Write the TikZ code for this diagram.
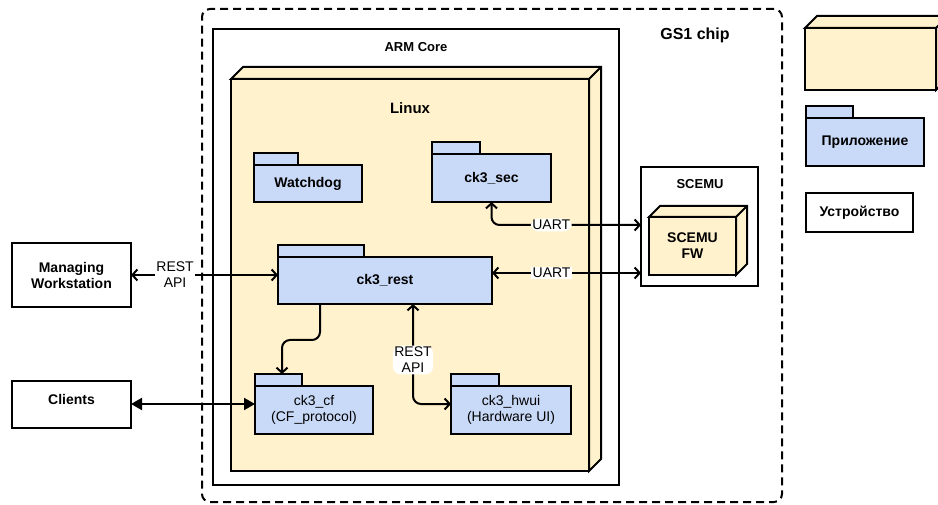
\documentclass[tikz,border=0pt]{standalone}
\usepackage{fontspec}
\setmainfont{Liberation Sans}
\usetikzlibrary{arrows.meta}
\definecolor{nodefill}{HTML}{FFF2CC}
\definecolor{appfill}{HTML}{C9DAF8}
\newcommand\cubetop[2]{\draw[cube](#1.north west)--++(#2,-#2)
  --([shift={(#2,-#2)}]#1.north east)--([shift={(#2,-#2)}]#1.south east)
  --(#1.south east)--(#1.north east)--cycle(#1.north east)--++(#2,-#2);}
\newcommand\apptab[2]{\draw[app](#1.north west)rectangle++(#2,-12);}

\begin{document}
\begin{tikzpicture}[x=1pt,y=-1pt,line width=2pt,
    every node/.style={font=\fontsize{14}{16}\selectfont,inner sep=0pt,outer sep=0pt},
    >={Straight Barb[length=5pt,width=11pt]},
    box/.style={draw,fill=white,align=center},
    cube/.style={draw,fill=nodefill,align=center},
    app/.style={draw,fill=appfill,align=center},
    lbl/.style={fill=white,inner sep=1.5pt,align=center},
    bold/.style={font=\fontsize{14}{16}\selectfont\bfseries}]
  \useasboundingbox(0,0)rectangle(938,505);
  \node[draw,dash pattern=on 8pt off 5pt,rounded corners=8,minimum width=580,
    minimum height=493](chip)at(492,255.5){};
  \node[font=\fontsize{16}{18}\selectfont\bfseries](chiplbl)at(695,35){GS1 chip};
  \node[box,minimum width=406,minimum height=456](arm)at(416,257){};
  \node[font=\fontsize{13}{15}\selectfont\bfseries](armlbl)at(416,47){ARM Core};
  \node[cube,minimum width=358,minimum height=392](linux)at(410,275){};
  \cubetop{linux}{12}
  \node[font=\fontsize{15}{17}\selectfont\bfseries](linuxlbl)at(410,108){Linux};

  \node[app,bold,minimum width=108,minimum height=37](watchdog)at(308,183.5){Watchdog};
  \apptab{watchdog}{44}
  \node[app,bold,minimum width=119,minimum height=48](sec)at(491.5,178){ck3\_sec};
  \apptab{sec}{48}
  \node[app,bold,minimum width=214,minimum height=47](rest)at(385,280.5){ck3\_rest};
  \apptab{rest}{86}
  \node[app,minimum width=118,minimum height=48](cf)at(314,410){ck3\_cf\\(CF\_protocol)};
  \apptab{cf}{47}
  \node[app,minimum width=120,minimum height=48](hwui)at(511,410){ck3\_hwui\\(Hardware UI)};
  \apptab{hwui}{48}

  \node[box,minimum width=117,minimum height=119](scemu)at(699.5,226.5){};
  \node[font=\fontsize{13}{15}\selectfont\bfseries](scemulbl)at(700,184){SCEMU};
  \node[cube,bold,minimum width=87,minimum height=58](fw)at(692.5,246){SCEMU\\FW};
  \cubetop{fw}{11}

  \node[box,bold,minimum width=119,minimum height=64](ws)at(71.5,275){Managing\\Workstation};
  \node[box,minimum width=119,minimum height=47](clients)at(71.5,404.5){};
  \node[bold](clientslbl)at(71.5,399){Clients};

  \node[cube,minimum width=131,minimum height=62](legnode)at(870.5,59){};
  \cubetop{legnode}{12}
  \node[app,bold,minimum width=118,minimum height=48](legapp)at(865,142){Приложение};
  \apptab{legapp}{47}
  \node[box,bold,minimum width=107,minimum height=39](legdev)at(859.5,212.5){Устройство};

  \draw[<->](ws.east)--node[lbl,pos=0.3]{REST\\API}(ws.east-|rest.west);
  \draw[<->,rounded corners=8](sec.south)|-node[lbl,pos=0.7]{UART}([yshift=1.5]scemu.west);
  \draw[<->]([yshift=7.5]rest.east)--node[lbl,pos=0.4]{UART}([yshift=7.5]rest.east-|scemu.west);
  \draw[->,rounded corners=8]([xshift=-65]rest.south)--++(0,36)
    -|([shift={(27,-12)}]cf.north west);
  \draw[<->,rounded corners=8]([xshift=28]rest.south)|-node[lbl,pos=0.28]{REST\\API}
    ([yshift=6]hwui.west);
  \draw[{Triangle[length=11pt,width=12pt]}-{Triangle[length=11pt,width=12pt]}]
    ([yshift=0.5]clients.east)--([yshift=0.5]clients.east-|cf.west);
\end{tikzpicture}
\end{document}
